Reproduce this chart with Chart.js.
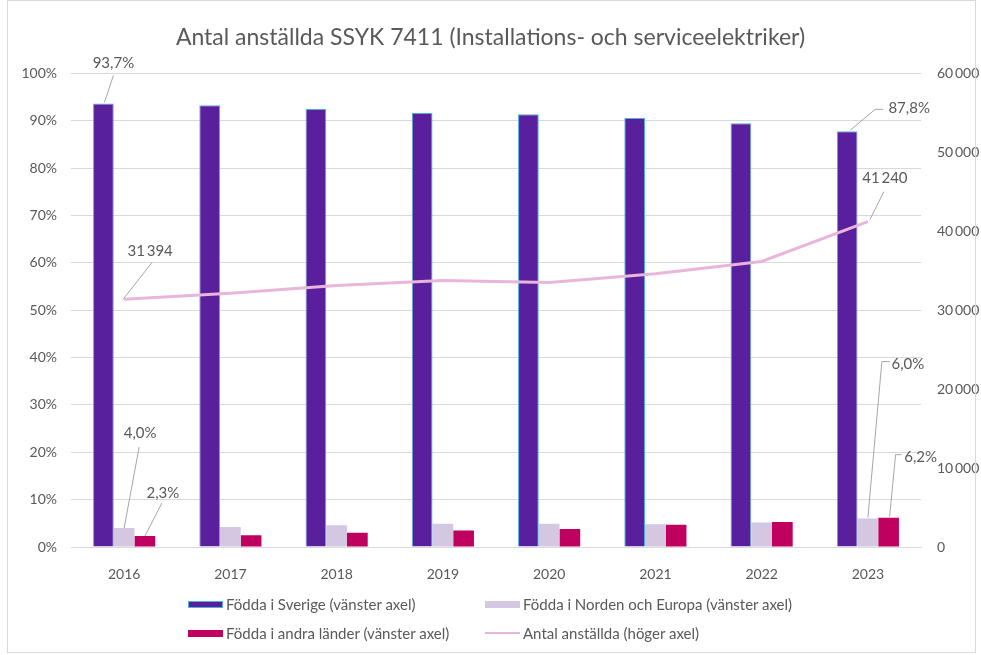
<!DOCTYPE html>
<html><head><meta charset="utf-8">
<script src="https://cdn.jsdelivr.net/npm/chart.js@4"></script>
<style>
html,body{margin:0;padding:0;background:#fff;}
#wrap{position:relative;width:981px;height:655px;overflow:hidden;}
#frame{position:absolute;left:7px;top:0px;width:967px;height:651px;border:1px solid #d9d9d9;pointer-events:none;}
canvas{position:absolute;left:0;top:0;}
.leg{position:absolute;font:15px Lato, sans-serif;color:#595959;white-space:nowrap;display:flex;align-items:center;height:18px;}
.sw{display:inline-block;width:35px;margin-right:3px;box-sizing:border-box;}
</style></head><body>
<div id="wrap"><canvas id="c" width="981" height="655"></canvas><div id="frame"></div><div id="legend"></div></div>
<script>
// ---- data ----
const years = ['2016','2017','2018','2019','2020','2021','2022','2023'];
const foddaSverige = [93.7, 93.3, 92.5, 91.7, 91.4, 90.6, 89.5, 87.8];
const foddaNordenEuropa = [4.0, 4.2, 4.6, 4.9, 4.9, 4.8, 5.2, 6.0];
const foddaAndraLander = [2.3, 2.5, 3.0, 3.5, 3.8, 4.7, 5.3, 6.2];
const antalAnstallda = [31394, 32150, 33150, 33780, 33530, 34630, 36190, 41240];
const leftTicksMax = 100;
const rightTicksMax = 60000;
const titleText = 'Antal anställda SSYK 7411 (Installations- och serviceelektriker)';
const seriesNames = ['Födda i Sverige (vänster axel)','Födda i Norden och Europa (vänster axel)','Födda i andra länder (vänster axel)','Antal anställda (höger axel)'];

const FONT = 'Lato, "Open Sans", sans-serif';
const TXT = '#595959';
const fmtPct = v => v.toFixed(1).replace('.', ',') + '%';
const fmtNum = v => Math.round(v).toString().replace(/\B(?=(\d{3})+(?!\d))/g, '\u2009');

// callouts: dataset index, point index, text offset, leader polyline offsets
const callouts = [
  {ds:0, i:0, t:[10,-40], pts:[[1,-1],[10,-28]]},
  {ds:0, i:7, t:[62,-23], pts:[[3,-1],[28,-22],[36,-22]]},
  {ds:3, i:0, t:[26,-48], pts:[[-1,0],[28,-37]]},
  {ds:3, i:7, t:[17,-43], pts:[[2,-2],[16,-30]]},
  {ds:1, i:0, t:[16,-95], pts:[[0,0],[15,-81]]},
  {ds:2, i:0, t:[18,-43], pts:[[0,0],[17,-33]]},
  {ds:1, i:7, t:[40,-154], pts:[[0,-1],[14,-157],[22,-157]]},
  {ds:2, i:7, t:[32,-60], pts:[[1,-1],[7,-63],[13,-63]]}
];

const calloutPlugin = {
  id:'callouts',
  afterDatasetsDraw(chart){
    const ctx = chart.ctx;
    ctx.save();
    callouts.forEach(c=>{
      const el = chart.getDatasetMeta(c.ds).data[c.i];
      const x = el.x, y = el.y;
      ctx.strokeStyle = '#a6a6a6'; ctx.lineWidth = 1;
      ctx.beginPath();
      c.pts.forEach((p,k)=>{ if(k===0) ctx.moveTo(x+p[0], y+p[1]); else ctx.lineTo(x+p[0], y+p[1]); });
      ctx.stroke();
      const v = chart.data.datasets[c.ds].data[c.i];
      const txt = c.ds===3 ? fmtNum(v) : fmtPct(v);
      ctx.font = '15px ' + FONT;
      ctx.fillStyle = TXT; ctx.textAlign = 'center'; ctx.textBaseline = 'middle';
      ctx.fillText(txt, x + c.t[0], y + c.t[1]);
    });
    ctx.restore();
  }
};

const colors = {
  sverige:'#5a1f9c', sverigeBorder:'#4fb0e0',
  norden:'#d4c7e2', andra:'#c0005e', line:'#e8b6da'
};

const chart = new Chart(document.getElementById('c'), {
  data:{
    labels: years,
    datasets:[
      {type:'bar', label:seriesNames[0], data:foddaSverige, backgroundColor:colors.sverige, borderColor:colors.sverigeBorder, borderWidth:1, yAxisID:'y', order:1, categoryPercentage:0.585, barPercentage:1},
      {type:'bar', label:seriesNames[1], data:foddaNordenEuropa, backgroundColor:colors.norden, borderWidth:0, yAxisID:'y', order:1, categoryPercentage:0.585, barPercentage:1},
      {type:'bar', label:seriesNames[2], data:foddaAndraLander, backgroundColor:colors.andra, borderWidth:0, yAxisID:'y', order:1, categoryPercentage:0.585, barPercentage:1},
      {type:'line', label:seriesNames[3], data:antalAnstallda, borderColor:colors.line, backgroundColor:colors.line, borderWidth:3, pointRadius:0, tension:0, yAxisID:'y2', order:0}
    ]
  },
  options:{
    responsive:false, animation:false,
    layout:{padding:{left:0,right:0,top:0,bottom:0}},
    plugins:{
      legend:{display:false}, tooltip:{enabled:false},
      title:{display:true, text:titleText, color:TXT, font:{family:FONT, size:23, weight:'normal'}, padding:{top:24,bottom:22}}
    },
    scales:{
      x:{grid:{display:false}, border:{color:'#d9d9d9'}, ticks:{color:TXT, font:{family:FONT,size:14}, padding:11}, afterFit(s){s.height=108;}},
      y:{position:'left', min:0, max:leftTicksMax, ticks:{stepSize:10, callback:v=>v+'%', color:TXT, font:{family:FONT,size:14}, padding:14}, grid:{color:'#d9d9d9', drawTicks:false}, border:{display:false}, afterFit(s){s.width=71;}},
      y2:{position:'right', min:0, max:rightTicksMax, ticks:{stepSize:10000, callback:v=>fmtNum(v), color:TXT, font:{family:FONT,size:14}, padding:16}, grid:{display:false, drawTicks:false}, border:{display:false}, afterFit(s){s.width=60;}}
    }
  },
  plugins:[calloutPlugin]
});

// legend (HTML), built from datasets
const legPos = [[188,595],[485,595],[188,624],[485,624]];
const legEl = document.getElementById('legend');
chart.data.datasets.forEach((d,k)=>{
  const item = document.createElement('div');
  item.className='leg';
  item.style.left = legPos[k][0]+'px'; item.style.top = legPos[k][1]+'px';
  const sw = document.createElement('span'); sw.className='sw';
  if(d.type==='line'){ sw.style.height='2px'; sw.style.background=d.borderColor; }
  else { sw.style.height='7px'; sw.style.background=d.backgroundColor; if(d.borderWidth) sw.style.border='1px solid '+d.borderColor; }
  item.appendChild(sw);
  item.appendChild(document.createTextNode(d.label));
  legEl.appendChild(item);
});
</script>
</body></html>
